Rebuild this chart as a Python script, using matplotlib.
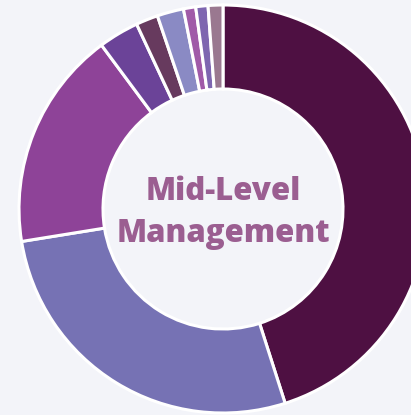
import matplotlib.pyplot as plt

# share of each group, clockwise from 12 o'clock
shares = [45.1, 27.4, 17.4, 3.2, 1.75, 2.1, 0.97, 0.97, 1.17]
colors = ["#4e1042", "#7672b4", "#8e4398", "#6b4398", "#673a5e",
          "#8a8ac4", "#a05aa8", "#7e66b0", "#9a7890"]
center_label = "Mid-Level\nManagement"

bg = "#f3f4f9"
fig = plt.figure(figsize=(4.11, 4.15), dpi=100, facecolor=bg)
ax = fig.add_axes([0, 0, 1, 1])
ax.set_facecolor(bg)

# work in pixel units so the donut can sit partly off the canvas
cx, cy = 223, 415 - 209
r_out, r_in = 204, 120

ax.pie(shares, colors=colors, startangle=90, counterclock=False,
       center=(cx, cy), radius=r_out, frame=True,
       wedgeprops=dict(width=r_out - r_in, edgecolor="white", linewidth=2.2))

ax.text(cx, cy - 4, center_label, ha="center", va="center", fontsize=22.5,
        fontweight=800, color="#9b5e91", family="Open Sans",
        linespacing=1.45)

ax.set_xlim(0, 411)
ax.set_ylim(0, 415)
ax.set_aspect("equal")
ax.axis("off")

fig.savefig("out.png", dpi=100, facecolor=bg)
